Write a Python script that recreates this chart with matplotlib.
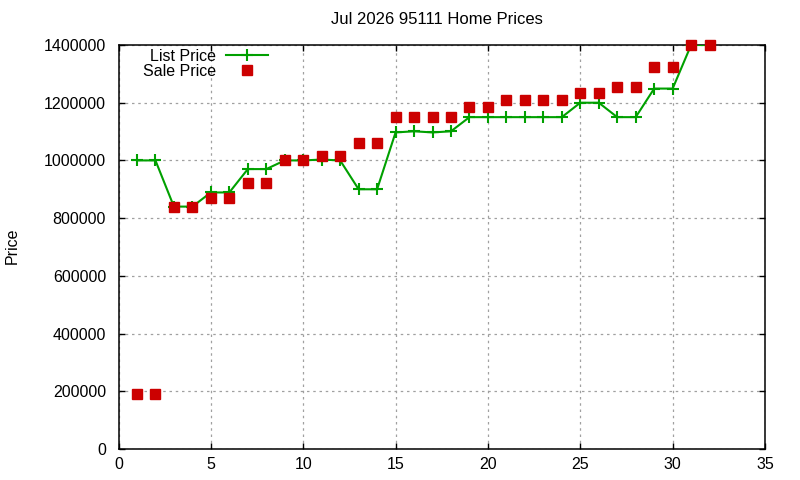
import matplotlib
matplotlib.use("Agg")
import matplotlib.pyplot as plt
from matplotlib.ticker import MultipleLocator, FuncFormatter

plt.rcParams['font.family'] = ['Liberation Sans', 'DejaVu Sans']

title = "Jul 2026 95111 Home Prices"
list_x = [1, 2, 3, 4, 5, 6, 7, 8, 9, 10, 11, 12, 13, 14, 15, 16,
          17, 18, 19, 20, 21, 22, 23, 24, 25, 26, 27, 28, 29, 30, 31, 32]
list_price = [1000000, 1000000, 840000, 840000, 889000, 889000, 970000, 970000,
              1000000, 1000000, 1003000, 1000000, 900000, 900000, 1097000, 1101000,
              1097000, 1101000, 1150000, 1150000, 1150000, 1150000, 1150000, 1150000,
              1200000, 1200000, 1150000, 1150000, 1249000, 1249000, 1400000, 1400000]
sale_x = list_x
sale_price = [190000, 190000, 840000, 840000, 870000, 870000, 922000, 922000,
              1000000, 1000000, 1017000, 1017000, 1059000, 1059000, 1151000, 1151000,
              1151000, 1151000, 1184000, 1184000, 1208000, 1208000, 1208000, 1208000,
              1235000, 1235000, 1253000, 1253000, 1325000, 1325000, 1400000, 1400000]

L, R, T, B = 118.5, 765, 45, 449
fig = plt.figure(figsize=(8, 4.8), dpi=100)
ax = fig.add_axes([L/800, 1-B/480, (R-L)/800, (B-T)/480])

ax.plot(list_x, list_price, color='#00a000', lw=1.5, marker='+', ms=9, mew=1.5,
        label='List Price', zorder=3)
ax.plot(sale_x, sale_price, ls='none', marker='s', ms=7, color='#cc0000',
        label='Sale Price', zorder=4, clip_on=False)

ax.set_xlim(0, 35)
ax.set_ylim(0, 1400000)
ax.xaxis.set_major_locator(MultipleLocator(5))
ax.yaxis.set_major_locator(MultipleLocator(200000))
ax.yaxis.set_major_formatter(FuncFormatter(lambda v, p: f"{int(round(v))}"))
ax.grid(True, color='#a0a0a0', ls=(0, (2, 3)), lw=0.9)
ax.tick_params(direction='in', length=4.5, width=1, top=True, right=True,
               labelsize=11.5, colors='black')
ax.tick_params(axis='x', pad=6)
ax.tick_params(axis='y', pad=9)
for s in ax.spines.values():
    s.set_linewidth(1.1)

fig.text(437/800, 1-20/480, title, ha='center', va='center', fontsize=12)
fig.text(12/800, 1-246/480, 'Price', ha='center', va='center', rotation=90, fontsize=11.5)

leg = ax.legend(loc='upper left', bbox_to_anchor=(0.026, 1.01), frameon=False,
                markerfirst=False, fontsize=11.5, handlelength=2.6, handletextpad=0.6,
                labelspacing=0.0, borderaxespad=0.1)

fig.savefig('out.png', dpi=100)
